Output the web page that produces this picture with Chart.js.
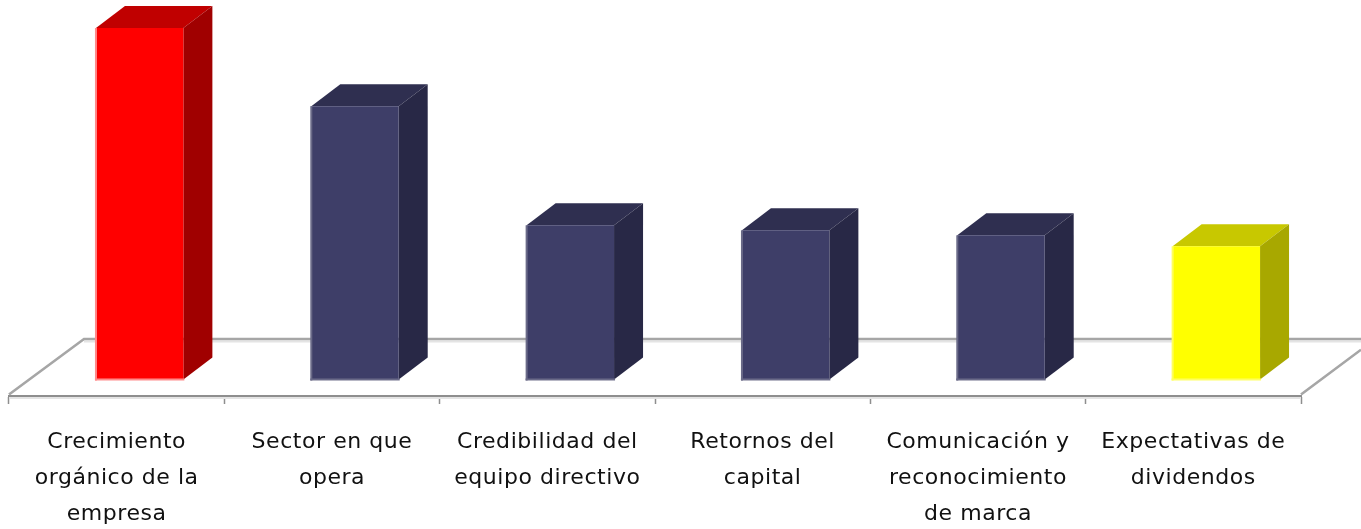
<!DOCTYPE html>
<html>
<head>
<meta charset="utf-8">
<style>html,body{margin:0;padding:0;background:#fff;overflow:hidden}canvas{display:block}</style>
<script src="https://cdn.jsdelivr.net/npm/chart.js@4"></script>
</head>
<body>
<canvas id="c" width="1361" height="529"></canvas>
<script>
const categories = [
  ["Crecimiento", "orgánico de la", "empresa"],
  ["Sector en que", "opera"],
  ["Credibilidad del", "equipo directivo"],
  ["Retornos del", "capital"],
  ["Comunicación y", "reconocimiento", "de marca"],
  ["Expectativas de", "dividendos"]
];
const values = [35.1, 27.3, 15.4, 14.9, 14.4, 13.3];
const frontColors = ["#ff0000", "#3e3e68", "#3e3e68", "#3e3e68", "#3e3e68", "#ffff00"];
const topColors = ["#c00000", "#2f2f50", "#2f2f50", "#2f2f50", "#2f2f50", "#c8c800"];
const sideColors = ["#a00000", "#282846", "#282846", "#282846", "#282846", "#a8a800"];
const edgeColors = ["#ff8a8a", "#6a6a88", "#6a6a88", "#6a6a88", "#6a6a88", "#ffff60"];

const DX = 29, DY = 22, SHIFT = 23;
const LETTER_SPACING = "0.55px";

const spacing = {
  id: "spacing",
  afterInit(chart) { chart.ctx.letterSpacing = LETTER_SPACING; },
  beforeUpdate(chart) { chart.ctx.letterSpacing = LETTER_SPACING; },
  beforeDraw(chart) { chart.ctx.letterSpacing = LETTER_SPACING; }
};

const extrude = {
  id: "extrude",
  beforeDatasetsDraw(chart) {
    const ctx = chart.ctx, x = chart.scales.x;
    const by = x.top - 0.5;
    const backY = by - 56.5, l = x.left, r = x.right, fdx = 75;
    ctx.save();
    ctx.lineCap = "butt";
    ctx.strokeStyle = "#e4e4e4"; ctx.lineWidth = 2;
    ctx.beginPath();
    ctx.moveTo(l + fdx, backY + 2.5); ctx.lineTo(chart.width, backY + 2.5);
    ctx.moveTo(l, by + 2.5); ctx.lineTo(r, by + 2.5);
    ctx.stroke();
    ctx.strokeStyle = "#a6a6a6"; ctx.lineWidth = 2.6;
    ctx.beginPath();
    ctx.moveTo(l, by - 1); ctx.lineTo(l + fdx, backY);
    ctx.lineTo(chart.width, backY);
    ctx.moveTo(r, by - 1); ctx.lineTo(chart.width, by - 1 - (fdx - 15) * 56 / fdx);
    ctx.stroke();
    ctx.restore();

    ctx.save();
    ctx.translate(SHIFT, 0);
    chart.getDatasetMeta(0).data.forEach((b, i) => {
      const left = b.x - b.width / 2, right = b.x + b.width / 2;
      ctx.fillStyle = topColors[i];
      ctx.beginPath();
      ctx.moveTo(left, b.y); ctx.lineTo(left + DX, b.y - DY);
      ctx.lineTo(right + DX, b.y - DY); ctx.lineTo(right, b.y);
      ctx.closePath(); ctx.fill();
      ctx.fillStyle = sideColors[i];
      ctx.beginPath();
      ctx.moveTo(right, b.y); ctx.lineTo(right + DX, b.y - DY);
      ctx.lineTo(right + DX, b.base - DY); ctx.lineTo(right, b.base);
      ctx.closePath(); ctx.fill();
    });
  },
  afterDatasetsDraw(chart) {
    const ctx = chart.ctx;
    chart.getDatasetMeta(0).data.forEach((b, i) => {
      const left = b.x - b.width / 2;
      ctx.fillStyle = edgeColors[i];
      ctx.fillRect(left - 1, b.y, 2, b.base - b.y + 1);
      ctx.fillRect(left - 1, b.base - 1, b.width + 2, 2);
    });
    ctx.restore();
  }
};

const ctx = document.getElementById("c").getContext("2d");

new Chart(ctx, {
  type: "bar",
  data: {
    labels: categories,
    datasets: [{
      data: values,
      backgroundColor: frontColors,
      borderWidth: 0,
      barPercentage: 0.406,
      categoryPercentage: 1
    }]
  },
  options: {
    responsive: false,
    animation: false,
    layout: { padding: { left: 9, right: 60, top: 0, bottom: 0 } },
    plugins: { legend: { display: false }, tooltip: { enabled: false }, title: { display: false } },
    scales: {
      y: { display: false, min: -1.65, max: 37.9 },
      x: {
        afterFit(s) { s.height = 133; },
        border: { display: true, color: "#8e8e8e", width: 2 },
        grid: { drawOnChartArea: false, tickLength: 8, color: "#8e8e8e", tickWidth: 1.5 },
        ticks: {
          color: "#111111",
          maxRotation: 0, minRotation: 0, autoSkip: false, padding: 20,
          font: { family: "'DejaVu Sans'", size: 22, lineHeight: 36 / 22 }
        }
      }
    }
  },
  plugins: [spacing, extrude]
});
</script>
</body>
</html>
